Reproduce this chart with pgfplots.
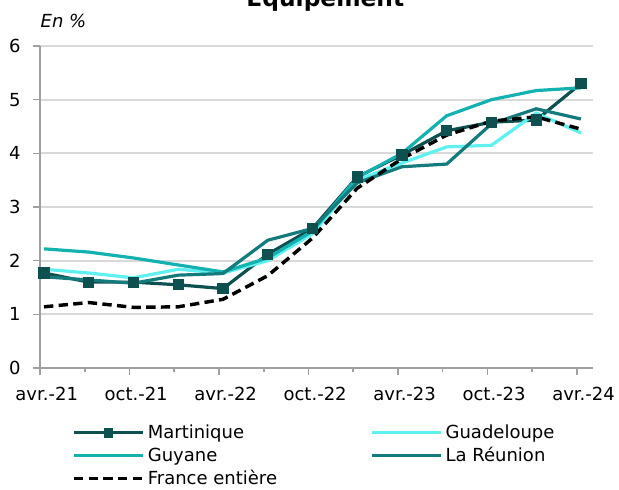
\documentclass[border=0pt]{standalone}
\usepackage{fontspec}
\setmainfont{DejaVu Sans}
\usepackage{pgfplots}
\pgfplotsset{compat=1.18}
\definecolor{cMart}{HTML}{0E4F50}
\definecolor{cGuad}{HTML}{5FF0F0}
\definecolor{cGuy}{HTML}{14B1B1}
\definecolor{cReu}{HTML}{137B7B}
\definecolor{cGrid}{HTML}{D9D9D9}
\definecolor{cAxis}{HTML}{A0A0A0}
\begin{document}
\begin{tikzpicture}
\useasboundingbox (-30pt,-91.5pt) rectangle (434.25pt,276pt);
\node[font=\bfseries\fontsize{17.5}{20}\selectfont, anchor=base] at (214pt,271pt) {Équipement};
\node[font=\itshape\fontsize{13.5}{16}\selectfont, anchor=base west] at (-3pt,255pt) {En \%};
\begin{axis}[
    scale only axis,
    width=414.75pt, height=241.5pt,
    xmin=-0.09, xmax=12.27,
    ymin=0, ymax=6,
    ytick={0,1,...,6},
    xtick={-0.09,1.91,3.91,5.91,7.91,9.91,11.91},
    minor xtick={0.91,2.91,4.91,6.91,8.91,10.91},
    xticklabels={avr.-21,oct.-21,avr.-22,oct.-22,avr.-23,oct.-23,avr.-24},
    xticklabel style={xshift=5pt, yshift=-6pt},
    yticklabel style={xshift=-6pt},
    tick label style={font=\fontsize{13.5}{16}\selectfont},
    /pgf/number format/assume math mode=true,
    axis x line*=bottom, axis y line*=left,
    axis line style={cAxis, line width=1.2pt, -},
    tick style={cAxis, line width=1.2pt},
    tick align=outside,
    major tick length=5pt, minor tick length=3pt,
    ymajorgrids, grid style={cGrid, line width=1.5pt},
    legend columns=2,
    legend cell align=left,
    legend style={draw=none, fill=none, inner sep=0pt,
        at={(axis description cs:0.058,-0.168)}, anchor=north west,
        font=\fontsize{13.5}{16}\selectfont, row sep=1pt,
        /tikz/every even column/.append style={column sep=68pt}},
    legend image code/.code={\draw[mark repeat=2,mark phase=2,#1,mark size=2.3pt] plot coordinates {(0pt,0pt)(26pt,0pt)(52pt,0pt)};},
]
\addplot[cMart, line width=2.4pt, mark=square*, mark size=3pt, mark options={solid}] coordinates {
(0,1.77)(1,1.60)(2,1.60)(3,1.55)(4,1.48)(5,2.12)(6,2.60)(7,3.56)(8,3.97)(9,4.42)(10,4.58)(11,4.62)(12,5.30)};
\addlegendentry{Martinique}
\addplot[cGuad, line width=2.4pt] coordinates {
(0,1.84)(1,1.77)(2,1.68)(3,1.84)(4,1.77)(5,2.00)(6,2.50)(7,3.50)(8,3.82)(9,4.12)(10,4.15)(11,4.75)(12,4.38)};
\addlegendentry{Guadeloupe}
\addplot[cGuy, line width=2.4pt] coordinates {
(0,2.22)(1,2.16)(2,2.05)(3,1.92)(4,1.79)(5,2.05)(6,2.55)(7,3.55)(8,4.00)(9,4.70)(10,5.00)(11,5.17)(12,5.22)};
\addlegendentry{Guyane}
\addplot[cReu, line width=2.4pt] coordinates {
(0,1.70)(1,1.64)(2,1.58)(3,1.73)(4,1.76)(5,2.38)(6,2.60)(7,3.45)(8,3.75)(9,3.80)(10,4.55)(11,4.83)(12,4.64)};
\addlegendentry{La Réunion}
\addplot[black, line width=2.6pt, dash pattern=on 7pt off 4pt] coordinates {
(0,1.14)(1,1.22)(2,1.13)(3,1.14)(4,1.28)(5,1.72)(6,2.42)(7,3.35)(8,3.90)(9,4.34)(10,4.60)(11,4.68)(12,4.45)};
\addlegendentry{France entière}
\end{axis}
\end{tikzpicture}
\end{document}
